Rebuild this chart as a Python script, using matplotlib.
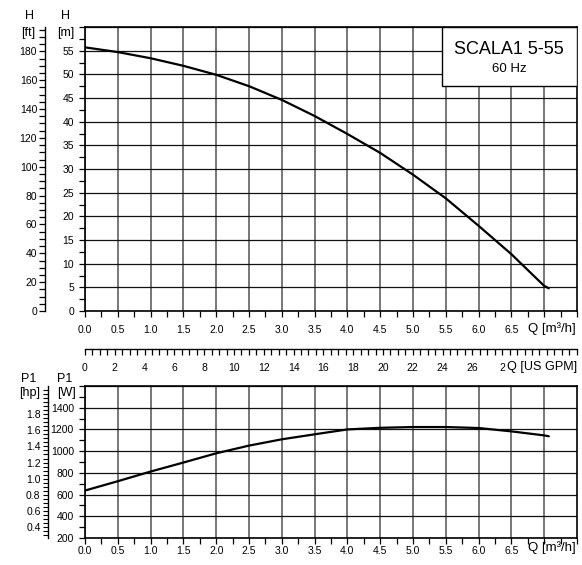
import numpy as np
import matplotlib
matplotlib.use("Agg")
import matplotlib.pyplot as plt
from matplotlib.ticker import MultipleLocator, FixedLocator
from matplotlib.patches import Rectangle

plt.rcParams['font.family'] = ['Liberation Sans', 'DejaVu Sans']

# Pump curve data (SCALA1 5-55, 60 Hz)
q_head = [0.0, 0.5, 1.0, 1.5, 2.0, 2.5, 3.0, 3.5, 4.0, 4.5, 5.0, 5.5, 6.0, 6.5, 7.0, 7.07]
head_m = [55.7, 54.7, 53.4, 51.8, 49.9, 47.5, 44.6, 41.2, 37.4, 33.4, 28.8, 23.8, 18.0, 12.0, 5.3, 4.8]

q_power = [0.0, 0.5, 1.0, 1.5, 2.0, 2.5, 3.0, 3.5, 4.0, 4.5, 5.0, 5.5, 6.0, 6.5, 7.0, 7.07]
power_w = [637, 723, 812, 895, 980, 1051, 1109, 1155, 1200, 1215, 1222, 1222, 1213, 1182, 1145, 1137]

q_ticks = [0.0, 0.5, 1.0, 1.5, 2.0, 2.5, 3.0, 3.5, 4.0, 4.5, 5.0, 5.5, 6.0, 6.5]
head_ticks = [0, 5, 10, 15, 20, 25, 30, 35, 40, 45, 50, 55]
ft_ticks = [0, 20, 40, 60, 80, 100, 120, 140, 160, 180]
gpm_ticks = [0, 2, 4, 6, 8, 10, 12, 14, 16, 18, 20, 22, 24, 26, 28]
gpm_labels = ['0', '2', '4', '6', '8', '10', '12', '14', '16', '18', '20', '22', '24', '26', '2']
power_ticks = [200, 400, 600, 800, 1000, 1200, 1400]
hp_ticks = [0.4, 0.6, 0.8, 1.0, 1.2, 1.4, 1.6, 1.8]

M_TO_FT = 3.28084
W_TO_HP = 1 / 745.7
M3H_TO_GPM = 4.40287
TICK_FS = 7.5

W, H = 582, 565
fig = plt.figure(figsize=(W / 100, H / 100), dpi=100)


def px_rect(left, top, right, bottom):
    return [left / W, 1 - bottom / H, (right - left) / W, (bottom - top) / H]


def style_grid_axes(ax):
    for s in ax.spines.values():
        s.set_linewidth(1.2)
        s.set_color('black')
    ax.xaxis.grid(True, color='#777777', lw=1.4)
    ax.yaxis.grid(True, color='#111111', lw=0.9)
    ax.set_axisbelow(True)
    ax.xaxis.set_major_locator(FixedLocator(q_ticks + [7.0]))
    ax.xaxis.set_minor_locator(MultipleLocator(0.25))
    ax.set_xticklabels([f'{v:.1f}' for v in q_ticks] + [''])
    ax.tick_params(axis='both', which='both', direction='out', length=4,
                   width=0.9, labelsize=TICK_FS, color='black')
    ax.set_xlim(0, 7.5)


def style_outer_axis(ax, outward):
    ax.yaxis.set_ticks_position('left')
    for side in ['top', 'bottom', 'right']:
        ax.spines[side].set_visible(False)
    ax.spines['left'].set_position(('outward', outward))
    ax.spines['left'].set_linewidth(1.0)


# --- head plot ---
ax_h = fig.add_axes(px_rect(85, 27, 577, 311))
style_grid_axes(ax_h)
ax_h.set_ylim(0, 60)
ax_h.yaxis.set_major_locator(FixedLocator(head_ticks + [60]))
ax_h.set_yticklabels([str(v) for v in head_ticks] + [''])
ax_h.yaxis.set_minor_locator(MultipleLocator(2.5))
ax_h.tick_params(axis='x', pad=6)
ax_h.tick_params(axis='y', pad=4)
ax_h.plot(q_head, head_m, color='black', lw=1.6, solid_capstyle='round')

ax_ft = ax_h.twinx()
ax_ft.set_ylim(0, 60 * M_TO_FT)
style_outer_axis(ax_ft, 28.5)
ax_ft.set_yticks(ft_ticks)
ax_ft.set_yticklabels([str(v) for v in ft_ticks])
ax_ft.yaxis.set_minor_locator(MultipleLocator(5))
ax_ft.tick_params(axis='y', which='both', direction='out', length=4, width=0.9,
                  labelsize=TICK_FS, pad=2)

# title box
ax_h.add_patch(Rectangle((0.725, 0.792), 0.275, 0.208, transform=ax_h.transAxes,
                         facecolor='white', edgecolor='black', lw=1.0, zorder=5))
ax_h.text(0.862, 0.922, 'SCALA1 5-55', transform=ax_h.transAxes, ha='center',
          va='center', fontsize=13, zorder=6)
ax_h.text(0.862, 0.852, '60 Hz', transform=ax_h.transAxes, ha='center',
          va='center', fontsize=9.5, zorder=6)

fig.text(576 / W, 1 - 329 / H, 'Q [m³/h]', ha='right', va='center', fontsize=9.5)

# --- US GPM scale ---
ax_g = fig.add_axes(px_rect(85, 348, 577, 349))
for side in ['top', 'left', 'right']:
    ax_g.spines[side].set_visible(False)
ax_g.spines['bottom'].set_linewidth(1.0)
ax_g.set_yticks([])
ax_g.set_xlim(0, 7.5 * M3H_TO_GPM)
ax_g.set_xticks(gpm_ticks)
ax_g.set_xticklabels(gpm_labels)
ax_g.xaxis.set_minor_locator(MultipleLocator(0.5))
ax_g.tick_params(axis='x', which='both', direction='out', length=4, width=0.9,
                 labelsize=TICK_FS, pad=6)
ax_g.patch.set_visible(False)
fig.text(577 / W, 1 - 367 / H, 'Q [US GPM]', ha='right', va='center', fontsize=9.1)

# --- power plot ---
ax_p = fig.add_axes(px_rect(85, 386, 577, 538))
style_grid_axes(ax_p)
ax_p.set_ylim(200, 1600)
ax_p.yaxis.set_major_locator(FixedLocator(power_ticks + [1600]))
ax_p.set_yticklabels([str(v) for v in power_ticks] + [''])
ax_p.yaxis.set_minor_locator(MultipleLocator(100))
ax_p.tick_params(axis='x', pad=2)
ax_p.tick_params(axis='y', pad=4)
ax_p.plot(q_power, power_w, color='black', lw=1.6, solid_capstyle='round')

ax_hp = ax_p.twinx()
ax_hp.set_ylim(200 * W_TO_HP, 1600 * W_TO_HP)
style_outer_axis(ax_hp, 26.5)
ax_hp.set_yticks(hp_ticks)
ax_hp.set_yticklabels([f'{v:.1f}' for v in hp_ticks])
ax_hp.yaxis.set_minor_locator(MultipleLocator(0.05))
ax_hp.tick_params(axis='y', which='both', direction='out', length=3.5, width=0.8,
                  labelsize=TICK_FS, pad=2)

fig.text(576 / W, 1 - 548 / H, 'Q [m³/h]', ha='right', va='center', fontsize=9.5)

# --- axis unit labels ---
for x, y, s in [(30, 16, 'H'), (28.5, 33, '[ft]'), (66, 16, 'H'), (65.5, 33, '[m]'),
                (29, 379, 'P1'), (29.5, 393, '[hp]'), (65, 379, 'P1'), (66, 393, '[W]')]:
    fig.text(x / W, 1 - y / H, s, ha='center', va='center', fontsize=9)

fig.savefig('out.png', dpi=100)
